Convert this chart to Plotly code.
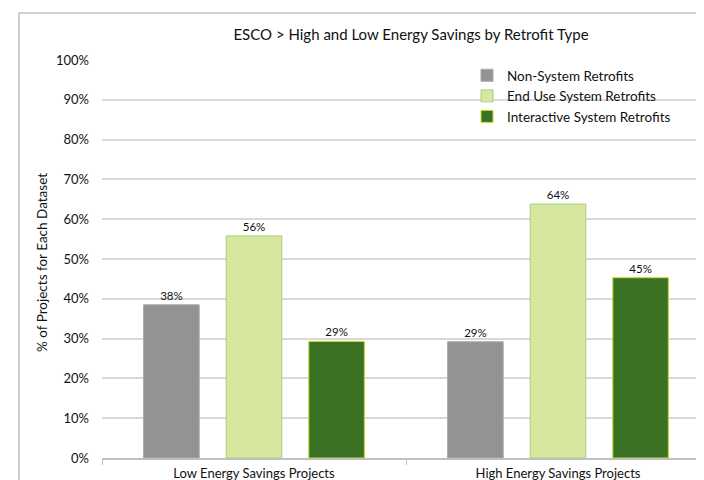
import plotly.graph_objects as go

categories = ["Low Energy Savings Projects", "High Energy Savings Projects"]
series_names = ["Non-System Retrofits", "End Use System Retrofits", "Interactive System Retrofits"]
non_system = [38.5, 29.2]
end_use = [55.8, 63.8]
interactive = [29.3, 45.3]
non_system_labels = ["38%", "29%"]
end_use_labels = ["56%", "64%"]
interactive_labels = ["29%", "45%"]
y_ticks = [0, 10, 20, 30, 40, 50, 60, 70, 80, 90, 100]
y_tick_labels = ["0%", "10%", "20%", "30%", "40%", "50%", "60%", "70%", "80%", "90%", "100%"]

FONT = "Lato, 'Liberation Sans', Arial, sans-serif"

styles = [
    dict(fill="#939393", line="#a8a8a8"),
    dict(fill="#d7e79d", line="#a9cf85"),
    dict(fill="#3b7125", line="#c9dc2e"),
]

fig = go.Figure()
for name, vals, labels, st in zip(series_names,
                                  [non_system, end_use, interactive],
                                  [non_system_labels, end_use_labels, interactive_labels],
                                  styles):
    fig.add_trace(go.Bar(
        name=name, x=categories, y=vals, text=labels,
        textposition="outside", cliponaxis=False,
        textfont=dict(family=FONT, size=11.5, color="#111111"),
        marker=dict(color=st["fill"], line=dict(color=st["line"], width=1)),
    ))

W, H = 704, 480
L, R, T, B = 94, 2, 52, 30
pw, ph = W - L - R, H - T - B

def px_x(x):
    return (x - L) / pw

def px_y(y):
    return (H - B - y) / ph

fig.update_layout(
    width=W, height=H,
    margin=dict(l=L, r=R, t=T, b=B),
    paper_bgcolor="white", plot_bgcolor="white",
    font=dict(family=FONT, size=13, color="#111111"),
    barmode="group", bargap=0.185, bargroupgap=0.327,
    title=dict(text="ESCO > High and Low Energy Savings by Retrofit Type",
               x=px_x(403), xref="paper", xanchor="center",
               y=1 - 27 / H, yanchor="middle",
               font=dict(family=FONT, size=15, color="#111111")),
    legend=dict(x=px_x(459), y=px_y(52), xanchor="left", yanchor="top",
                font=dict(family=FONT, size=13.5, color="#111111"),
                bgcolor="rgba(0,0,0,0)", traceorder="normal"),
    showlegend=True,
)

fig.update_yaxes(range=[0, 100], tickvals=y_ticks, ticktext=y_tick_labels,
                 showgrid=True, gridcolor="#d9d9d9", gridwidth=1.5,
                 zeroline=False, showline=False, ticks="",
                 ticklabelstandoff=12,
                 tickfont=dict(family=FONT, size=13, color="#111111"))
fig.update_xaxes(showline=True, linecolor="#bfbfbf", linewidth=1.5,
                 ticks="outside", tickson="boundaries", ticklen=5,
                 tickcolor="#bfbfbf", tickwidth=1,
                 ticklabelstandoff=3,
                 tickfont=dict(family=FONT, size=13, color="#111111"))

fig.add_annotation(text="% of Projects for Each Dataset", textangle=-90,
                   xref="paper", yref="paper", x=px_x(34), y=px_y(255),
                   xanchor="center", yanchor="middle", showarrow=False,
                   font=dict(family=FONT, size=13.5, color="#111111"))

fig.add_shape(type="rect", xref="paper", yref="paper",
              x0=px_x(11), x1=px_x(720), y0=px_y(500), y1=px_y(5),
              line=dict(color="#cfcfcf", width=2), fillcolor="rgba(0,0,0,0)",
              layer="below")

fig.write_html("out.html")
